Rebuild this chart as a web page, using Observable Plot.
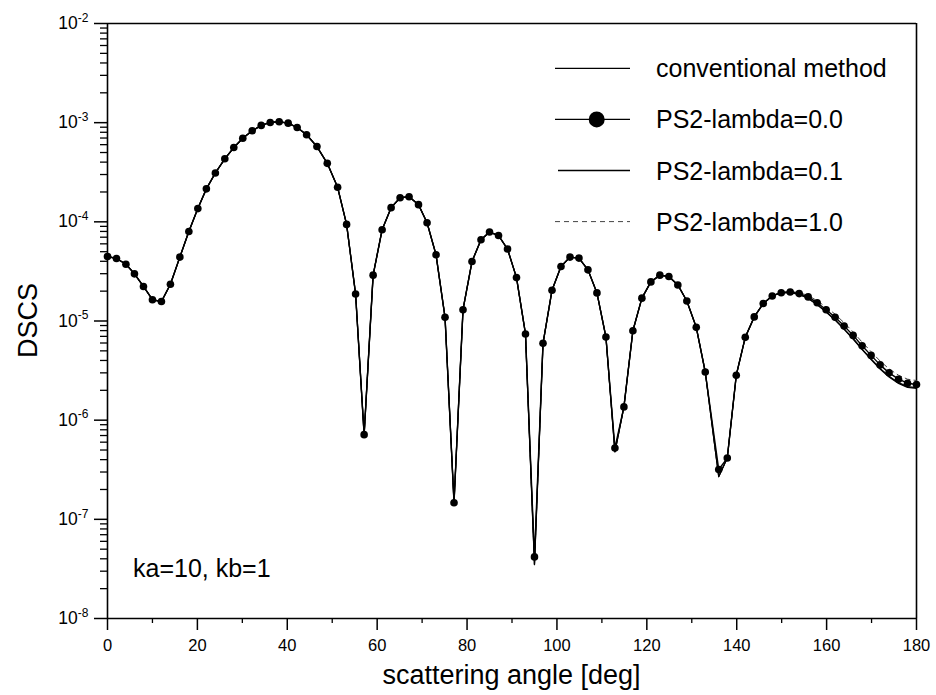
<!DOCTYPE html>
<html><head><meta charset="utf-8">
<script src="https://cdn.jsdelivr.net/npm/d3@7"></script>
<script src="https://cdn.jsdelivr.net/npm/@observablehq/plot@0.6"></script>
<style>
html,body{margin:0;padding:0;background:#fff;}
#chart{width:936px;height:695px;overflow:hidden;}
</style></head><body><div id="chart"></div>
<script>
const angle = [0.0,2.0,4.1,6.0,8.0,10.0,12.0,14.0,16.1,18.1,
  20.1,22.0,24.0,26.1,28.1,30.1,32.2,34.2,36.2,38.2,
  40.2,42.2,44.3,46.6,48.9,51.2,53.2,55.2,57.1,59.1,
  61.1,63.1,65.1,67.1,69.2,71.1,73.1,75.1,77.1,79.1,
  81.1,83.1,85.0,87.0,89.0,91.0,93.0,95.0,96.9,98.9,
  100.9,102.9,104.9,106.9,108.9,110.9,112.9,114.9,116.9,118.9,
  120.9,122.9,124.9,126.9,128.9,131.0,133.0,136.0,137.9,139.9,
  141.9,143.9,145.9,147.9,149.9,151.9,153.9,155.9,157.9,159.9,
  161.9,163.9,165.9,167.9,169.9,171.9,173.9,176.0,178.0,180.0];

// PS2-lambda=0.0 (dots)
const ps0 = [4.47e-5,4.27e-5,3.74e-5,2.99e-5,2.23e-5,1.64e-5,1.57e-5,2.35e-5,4.41e-5,8.0e-5,
  1.36e-4,2.15e-4,3.11e-4,4.32e-4,5.61e-4,6.97e-4,8.28e-4,9.38e-4,1.005e-3,1.021e-3,
  9.89e-4,8.93e-4,7.55e-4,5.74e-4,3.89e-4,2.23e-4,9.42e-5,1.87e-5,7.14e-7,2.90e-5,
  8.32e-5,1.39e-4,1.75e-4,1.79e-4,1.49e-4,9.8e-5,4.65e-5,1.09e-5,1.47e-7,1.30e-5,
  3.98e-5,6.59e-5,7.89e-5,7.28e-5,5.32e-5,2.74e-5,7.40e-6,4.18e-8,5.96e-6,2.04e-5,
  3.54e-5,4.41e-5,4.31e-5,3.28e-5,1.92e-5,6.89e-6,5.24e-7,1.36e-6,7.98e-6,1.70e-5,
  2.48e-5,2.90e-5,2.81e-5,2.31e-5,1.59e-5,8.63e-6,3.06e-6,3.18e-7,4.15e-7,2.84e-6,
  6.84e-6,1.10e-5,1.50e-5,1.79e-5,1.93e-5,1.96e-5,1.89e-5,1.75e-5,1.53e-5,1.30e-5,
  1.09e-5,8.89e-6,7.16e-6,5.62e-6,4.50e-6,3.61e-6,3.00e-6,2.59e-6,2.36e-6,2.29e-6];

// conventional method (solid line)
const conventional = [4.47e-5,4.27e-5,3.74e-5,2.99e-5,2.23e-5,1.64e-5,1.57e-5,2.35e-5,4.41e-5,8.0e-5,
  1.36e-4,2.15e-4,3.11e-4,4.32e-4,5.61e-4,6.97e-4,8.28e-4,9.38e-4,1.005e-3,1.021e-3,
  9.89e-4,8.93e-4,7.55e-4,5.74e-4,3.89e-4,2.23e-4,9.42e-5,1.87e-5,7.14e-7,2.90e-5,
  8.32e-5,1.39e-4,1.75e-4,1.79e-4,1.49e-4,9.8e-5,4.65e-5,1.09e-5,1.47e-7,1.30e-5,
  3.98e-5,6.59e-5,7.89e-5,7.28e-5,5.32e-5,2.74e-5,7.40e-6,3.5e-8,5.96e-6,2.04e-5,
  3.54e-5,4.41e-5,4.31e-5,3.28e-5,1.92e-5,6.89e-6,4.8e-7,1.36e-6,7.98e-6,1.70e-5,
  2.48e-5,2.90e-5,2.81e-5,2.31e-5,1.59e-5,8.63e-6,3.06e-6,2.7e-7,4.15e-7,2.84e-6,
  6.84e-6,1.10e-5,1.50e-5,1.79e-5,1.93e-5,1.94e-5,1.85e-5,1.69e-5,1.46e-5,1.23e-5,
  1.02e-5,8.24e-6,6.59e-6,5.14e-6,4.09e-6,3.28e-6,2.72e-6,2.35e-6,2.14e-6,2.09e-6];

// tails (from 149.9 deg on) where the other curves separate from the dots
const tailStart = 74;
const lambda01Tail = [1.93e-5,1.94e-5,1.86e-5,1.70e-5,1.47e-5,1.24e-5,1.03e-5,8.32e-6,6.66e-6,5.21e-6,
  4.15e-6,3.33e-6,2.77e-6,2.39e-6,2.18e-6,2.13e-6];
const lambda10Tail = [1.93e-5,1.99e-5,1.93e-5,1.81e-5,1.60e-5,1.38e-5,1.17e-5,9.59e-6,7.76e-6,6.12e-6,
  4.91e-6,3.95e-6,3.29e-6,2.84e-6,2.59e-6,2.51e-6];

const xTicks = [0,20,40,60,80,100,120,140,160,180];
const xMinorTicks = [10,30,50,70,90,110,130,150,170];
const yTicks = [1e-8,1e-7,1e-6,1e-5,1e-4,1e-3,1e-2];
const yMinorMultipliers = [2,3,4,5,6,7,8,9];
const legendLabels = ["conventional method","PS2-lambda=0.0","PS2-lambda=0.1","PS2-lambda=1.0"];
const annotationText = "ka=10, kb=1";
const xTitle = "scattering angle [deg]";
const yTitle = "DSCS";

const rows = angle.map((a, i) => ({
  angle: a,
  ps0: ps0[i],
  conv: conventional[i],
  l01: i < tailStart ? conventional[i] : lambda01Tail[i - tailStart],
  l10: i < tailStart ? conventional[i] : lambda10Tail[i - tailStart]
}));
const yMinor = yTicks.slice(0, -1).flatMap(t => yMinorMultipliers.map(k => k * t));

const FONT = '"Liberation Sans", Arial, Helvetica, sans-serif';
const W = 936, H = 695, ML = 107, MR = 20, MT = 23, MB = 77;

const svg = Plot.plot({
  width: W, height: H,
  marginLeft: ML, marginRight: MR, marginTop: MT, marginBottom: MB,
  style: {fontFamily: FONT, fontSize: "16.5px", color: "#000", background: "#fff"},
  x: {domain: [0, 180]},
  y: {type: "log", domain: [1e-8, 1e-2]},
  marks: [
    Plot.axisX({ticks: xMinorTicks, tickSize: 5, tickFormat: () => "", label: null, strokeWidth: 1.3}),
    Plot.axisX({ticks: xTicks, tickSize: 12, tickPadding: 9, tickFormat: d => String(d), label: null, strokeWidth: 1.5, fontSize: 16.5}),
    Plot.axisY({ticks: yMinor, tickSize: 7, tickFormat: () => "", label: null, strokeWidth: 1.3}),
    Plot.axisY({ticks: yTicks, tickSize: 13, tickPadding: 6, tickFormat: d => String(Math.round(Math.log10(d))), label: null, strokeWidth: 1.5, fontSize: 17.5}),
    Plot.ruleX([0, 180], {stroke: "#000", strokeWidth: 1.6}),
    Plot.ruleY([1e-8, 1e-2], {stroke: "#000", strokeWidth: 1.6}),
    Plot.line(rows, {x: "angle", y: "l10", stroke: "#444", strokeWidth: 1, strokeDasharray: "5,4"}),
    Plot.line(rows, {x: "angle", y: "conv", stroke: "#000", strokeWidth: 1.3}),
    Plot.line(rows, {x: "angle", y: "l01", stroke: "#000", strokeWidth: 1.2}),
    Plot.line(rows, {x: "angle", y: "ps0", stroke: "#000", strokeWidth: 1.4}),
    Plot.dot(rows, {x: "angle", y: "ps0", r: 3.8, fill: "#000", stroke: "none"})
  ]
});

// enforce tick-label font sizes
d3.select(svg).selectAll('g[aria-label="x-axis tick label"]').attr("font-size", "16.5px");
d3.select(svg).selectAll('g[aria-label="y-axis tick label"]').attr("font-size", "17.5px");

// y tick labels as 10 with superscript exponent
d3.select(svg).selectAll('g[aria-label="y-axis tick label"] text').each(function () {
  const exp = this.textContent;
  if (!exp) return;
  const t = d3.select(this);
  t.text(null);
  t.append("tspan").attr("font-size", "17.5px").text("10");
  t.append("tspan").attr("dy", "-0.62em").attr("font-size", "12px").text(exp);
});

const g = d3.select(svg).append("g").attr("font-family", FONT).attr("fill", "#000")
  .attr("text-anchor", "start");

// axis titles
g.append("text").attr("x", (ML + W - MR) / 2).attr("y", 684).attr("text-anchor", "middle")
  .attr("font-size", 27).text(xTitle);
g.append("text").attr("transform", `translate(37,${(MT + H - MB) / 2}) rotate(-90)`)
  .attr("text-anchor", "middle").attr("font-size", 27).text(yTitle);

// annotation
g.append("text").attr("x", 133).attr("y", 577).attr("text-anchor", "start")
  .attr("font-size", 25).text(annotationText);

// legend
legendLabels.forEach((lab, i) => {
  const y = 68.3 + i * 51.1;
  const x1 = i === 2 ? 558 : 555;
  const ln = g.append("line").attr("x1", x1).attr("x2", 630).attr("y1", y).attr("y2", y)
    .attr("stroke", i === 3 ? "#444" : "#000").attr("stroke-width", i === 3 ? 1 : 1.3);
  if (i === 3) ln.attr("stroke-dasharray", "5,4");
  if (i === 1) g.append("circle").attr("cx", 596.7).attr("cy", y).attr("r", 8).attr("fill", "#000");
  g.append("text").attr("x", 656).attr("y", y + 9).attr("text-anchor", "start")
    .attr("font-size", 25).text(lab);
});

document.getElementById("chart").appendChild(svg);
</script></body></html>
